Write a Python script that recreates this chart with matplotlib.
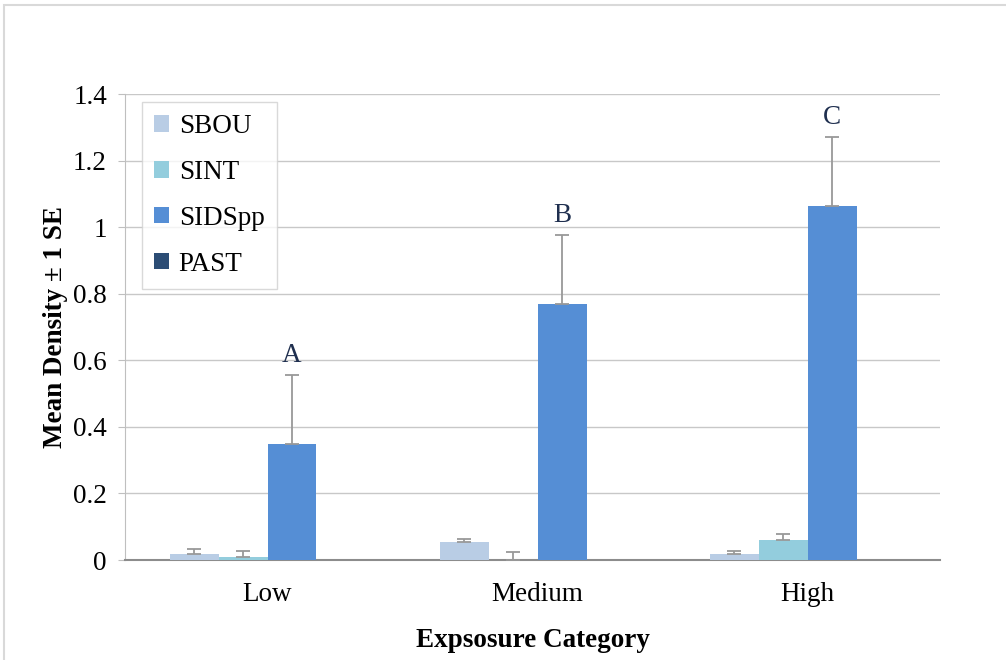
import matplotlib
matplotlib.use("Agg")
import matplotlib.pyplot as plt
import numpy as np
from matplotlib.patches import Rectangle

categories = ["Low", "Medium", "High"]
series = ["SBOU", "SINT", "SIDSpp", "PAST"]
sbou = [0.018, 0.053, 0.018]
sint = [0.008, 0.0, 0.060]
sidspp = [0.348, 0.768, 1.063]
past = [0.0, 0.0, 0.0]
sbou_se = [0.014, 0.010, 0.010]
sint_se = [0.020, 0.023, 0.018]
sidspp_se = [0.208, 0.208, 0.208]
past_se = [0.0, 0.0, 0.0]
letters = ["A", "B", "C"]
colors = ["#b9cde5", "#93cddd", "#558ed5", "#2c4d75"]

plt.rcParams['font.family'] = ['Liberation Serif', 'DejaVu Serif']
FS = 19.5

fig = plt.figure(figsize=(10.06, 6.6), dpi=100)
ax = fig.add_axes([125/1006, 1 - 560/660, (940-125)/1006, (560-94)/660])

vals = [sbou, sint, sidspp, past]
errs = [sbou_se, sint_se, sidspp_se, past_se]
x = np.arange(len(categories))
bw = 0.181
for i, (v, e, c, name) in enumerate(zip(vals, errs, colors, series)):
    pos = x + (i - 1.5) * bw
    ax.bar(pos, v, width=bw, color=c, label=name, zorder=3)
    show = [j for j in range(len(v)) if e[j] > 0]
    if show:
        ax.errorbar(pos[show], np.array(v)[show], yerr=[np.zeros(len(show)), np.array(e)[show]],
                    fmt='none', ecolor='#999999', elinewidth=1.3, capsize=5, capthick=1.3, zorder=4)

for j, L in enumerate(letters):
    ax.text(x[j] + 0.5 * bw, sidspp[j] + sidspp_se[j] + 0.02, L, ha='center', va='bottom',
            fontsize=FS, color='#1f2f4f')

ax.set_xlim(-0.528, 2.49)
ax.set_ylim(0, 1.4)
ax.set_yticks(np.arange(0, 1.41, 0.2))
ax.set_yticklabels(["0", "0.2", "0.4", "0.6", "0.8", "1", "1.2", "1.4"])
ax.set_xticks(x)
ax.set_xticklabels(categories)
ax.tick_params(axis='x', labelsize=FS, colors='#000000', length=0, pad=16)
ax.tick_params(axis='y', labelsize=FS, length=5, color='#bfbfbf', labelcolor='#000000',
               direction='out', pad=8)
ax.grid(axis='y', color='#c8c8c8', linewidth=1, zorder=0)
for s in ['top', 'right']:
    ax.spines[s].set_visible(False)
ax.spines['left'].set_color('#bfbfbf')
ax.spines['bottom'].set_color('#8c8c8c')
ax.spines['bottom'].set_linewidth(1.5)

ax.set_xlabel("Expsosure Category", fontsize=FS, fontweight='bold', labelpad=15)
ax.set_ylabel("Mean Density \u00b1 1 SE", fontsize=FS, fontweight='bold', labelpad=4)

leg = ax.legend(loc='upper left', bbox_to_anchor=(0.021, 0.983), fontsize=FS, frameon=True,
                fancybox=False, edgecolor='#d0d0d0', handlelength=0.55, handleheight=0.55,
                labelspacing=0.77, handletextpad=0.35, borderpad=0.45, borderaxespad=0)
leg.get_frame().set_linewidth(1)

fig.patches.append(Rectangle((4/1006, -0.1), 1.2, 1 - 5/660 + 0.1, transform=fig.transFigure,
                             fill=False, edgecolor='#d9d9d9', linewidth=1.5))

fig.savefig("out.png", dpi=100)
